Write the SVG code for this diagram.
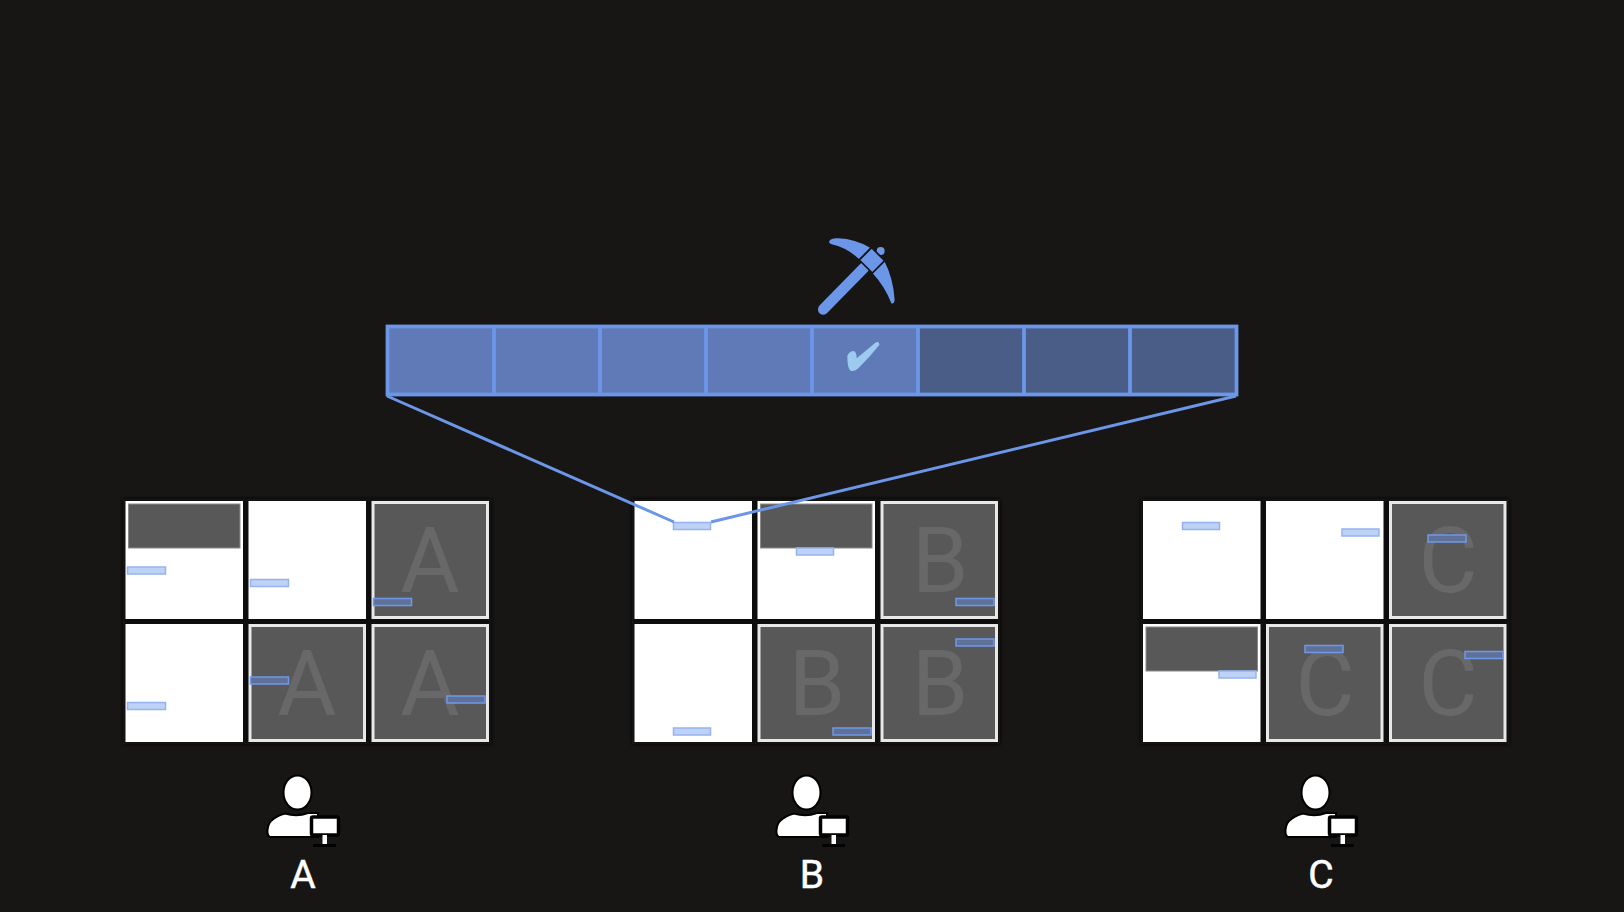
<svg xmlns="http://www.w3.org/2000/svg" width="1624" height="912" viewBox="0 0 1624 912">
<style>
.k{fill:#0c0c0c}
.w{fill:#fff}
.d{fill:#585858;stroke:#e8e8e8;stroke-width:3}
.h{fill:#585858;stroke:#8a8a8a;stroke-width:1}
.bl{fill:#bed1f6;stroke:#95b4ef;stroke-width:1.500}
.bd{fill:#5f7199;stroke:#6f98e8;stroke-width:1.500}
.m1{fill:#5f7ab6}
.m2{fill:#4a5d87}
.mo{fill:none;stroke:#6c96e8;stroke-width:3.800}
.ln{stroke:#6c96e8;stroke-width:3;fill:none}
.dv{stroke:#6c96e8;stroke-width:3.800;fill:none}
.g{font-family:"Roboto","Liberation Sans",sans-serif;font-size:91px;fill:#686868;text-anchor:middle}
.t{font-family:"Roboto","Liberation Sans",sans-serif;font-size:39px;fill:#fff;stroke:#fff;stroke-width:.5;text-anchor:middle}
</style>
<defs>
<filter id="soft" x="-5%" y="-5%" width="110%" height="110%"><feGaussianBlur stdDeviation="2"/></filter>
<g id="person">
<ellipse cx="57.500" cy="32.500" rx="14" ry="17" fill="#fff" stroke="#000" stroke-width="2"/>
<path d="M30 77 Q27 76 27.500 70 Q28 64 31 61 Q36 56 45 53.500 Q57 57 68 53 L78 53 L78 77 Z" fill="#fff" stroke="#000" stroke-width="2"/>
<rect x="71.500" y="57" width="27" height="18" rx="1.500" fill="#fff" stroke="#000" stroke-width="3.500"/>
<rect x="82.500" y="75" width="4.500" height="9" fill="#fff"/>
<rect x="73" y="84" width="23" height="3" fill="#000"/>
</g>
</defs>
<rect width="1624" height="912" fill="#171615"/>
<g id="shadows" filter="url(#soft)">
<rect class="k" x="123" y="499" width="368" height="245"/>
<rect class="k" x="632" y="499" width="368" height="245"/>
<rect class="k" x="1141" y="499" width="368" height="245"/>
</g>
<g id="chain">
<rect class="m1" x="387" y="326" width="426" height="69"/>
<rect class="m2" x="918" y="326" width="319" height="69"/>
<rect class="m1" x="812" y="326" width="106" height="69"/>
<rect class="mo" x="387.500" y="326.500" width="849" height="68"/>
<path class="dv" d="M494 326V395M600 326V395M706 326V395M812 326V395M918 326V395M1024 326V395M1130 326V395"/>
<path transform="translate(790 225) scale(.3333)" d="M172 392 Q178 378 192 378 Q200 382 200 400 L258 352 Q268 348 268 360 Q240 395 205 430 Q195 440 182 437 Q172 432 172 392 Z" fill="#9ccbef"/>
</g>
<g id="pickaxe" transform="translate(790 225) scale(.3333)" fill="#6c96e8">
<path d="M118 48 Q125 38 145 40 Q195 42 240 68 L207 102 Q170 68 125 58 Q115 54 118 48 Z"/>
<path d="M283 108 Q310 160 314 225 Q312 238 304 235 Q285 185 248 145 Z"/>
<path d="M100 253 L222 128" fill="none" stroke="#6c96e8" stroke-width="32" stroke-linecap="round"/>
<circle cx="272" cy="78" r="12"/>
<path d="M245 68 L284 107 L247 144 L208 105 Z" stroke="#171615" stroke-width="5"/>
</g>
<g id="grid-a">
<rect class="w" x="125.500" y="501" width="117.500" height="118"/><rect class="h" x="128.500" y="504" width="111.500" height="44"/><rect class="bl" x="127.500" y="567" width="38" height="7"/>
<rect class="w" x="248.500" y="501" width="117.500" height="118"/><rect class="bl" x="250.500" y="579.500" width="38" height="7"/>
<rect class="d" x="373" y="502.500" width="114.500" height="115"/><text class="g" x="430" y="592">A</text><rect class="bd" x="373.500" y="598.500" width="38" height="7"/>
<rect class="w" x="125.500" y="624" width="117.500" height="118"/><rect class="bl" x="127.500" y="702.500" width="38" height="7"/>
<rect class="d" x="250" y="625.500" width="114.500" height="115"/><text class="g" x="307" y="715">A</text><rect class="bd" x="250.500" y="677" width="38" height="7"/>
<rect class="d" x="373" y="625.500" width="114.500" height="115"/><text class="g" x="430" y="715">A</text><rect class="bd" x="447" y="696" width="38" height="7"/>
</g>
<g id="grid-b">
<rect class="w" x="634.500" y="501" width="117.500" height="118"/><rect class="bl" x="673.500" y="522.500" width="37" height="7"/>
<rect class="w" x="757.500" y="501" width="117.500" height="118"/><rect class="h" x="760.500" y="504" width="111.500" height="44"/><rect class="bl" x="796.500" y="548" width="37" height="7"/>
<rect class="d" x="882" y="502.500" width="114.500" height="115"/><text class="g" x="940" y="592">B</text><rect class="bd" x="956" y="598.500" width="38" height="7"/>
<rect class="w" x="634.500" y="624" width="117.500" height="118"/><rect class="bl" x="673.500" y="728" width="37" height="7"/>
<rect class="d" x="759" y="625.500" width="114.500" height="115"/><text class="g" x="817" y="715">B</text><rect class="bd" x="833" y="728" width="38" height="7"/>
<rect class="d" x="882" y="625.500" width="114.500" height="115"/><text class="g" x="940" y="715">B</text><rect class="bd" x="956" y="639" width="38" height="7"/>
</g>
<g id="grid-c">
<rect class="w" x="1143" y="501" width="117.500" height="118"/><rect class="bl" x="1182.500" y="522.500" width="37" height="7"/>
<rect class="w" x="1266" y="501" width="117.500" height="118"/><rect class="bl" x="1342" y="529" width="37" height="7"/>
<rect class="d" x="1390.500" y="502.500" width="114.500" height="115"/><text class="g" x="1448" y="592">C</text><rect class="bd" x="1428" y="535" width="38" height="7"/>
<rect class="w" x="1143" y="624" width="117.500" height="118"/><rect class="h" x="1146" y="627" width="111.500" height="44"/><rect class="bl" x="1219" y="671" width="37" height="7"/>
<rect class="d" x="1267.500" y="625.500" width="114.500" height="115"/><text class="g" x="1325" y="715">C</text><rect class="bd" x="1305" y="645.500" width="38" height="7"/>
<rect class="d" x="1390.500" y="625.500" width="114.500" height="115"/><text class="g" x="1448" y="715">C</text><rect class="bd" x="1465" y="651.500" width="38" height="7"/>
</g>
<g id="connectors">
<path class="ln" d="M387 396 L674 522"/>
<path class="ln" d="M1236 396 L711 522"/>
</g>
<g id="user-a"><use href="#person" x="240" y="760"/><text class="t" x="303" y="888">A</text></g>
<g id="user-b"><use href="#person" x="749" y="760"/><text class="t" x="812" y="888">B</text></g>
<g id="user-c"><use href="#person" x="1258" y="760"/><text class="t" x="1321" y="888">C</text></g>
</svg>
